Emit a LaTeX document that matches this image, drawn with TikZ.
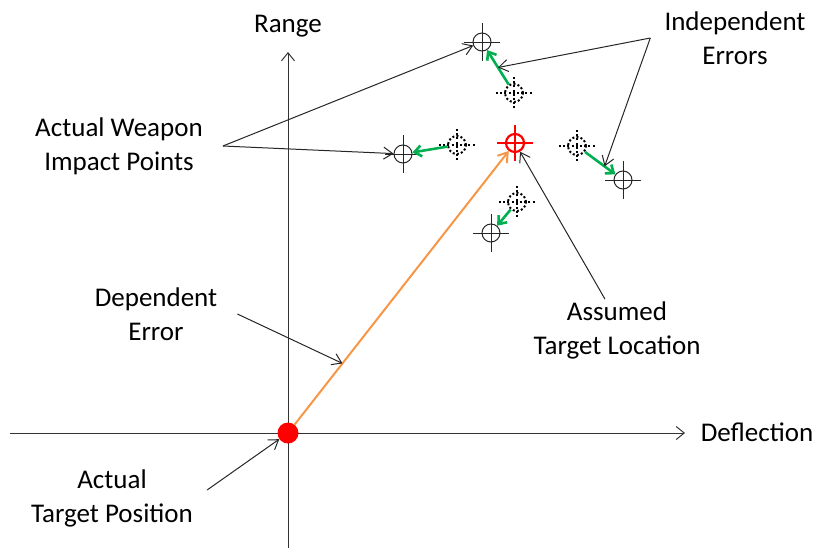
\documentclass[tikz,border=0pt]{standalone}
\usepackage{fontspec}
\setmainfont{Carlito}
\usetikzlibrary{arrows.meta,calc}

\definecolor{errgreen}{RGB}{0,176,80}
\definecolor{deporange}{RGB}{247,150,70}

\begin{document}
\begin{tikzpicture}[
        x=1pt, y=-1pt,
        lbl/.style={font=\fontsize{27}{34}\selectfont, align=center, inner sep=2pt, text=black},
        axis/.style={-{Straight Barb[length=8pt,width=13pt]}, line width=1pt, black!80},
        pointer/.style={-{Straight Barb[length=9pt,width=12pt]}, line width=1pt, black!85},
        impact/.style={circle, draw, minimum size=18pt, inner sep=0pt, line width=1pt, black!85},
        aim/.style={circle, draw, minimum size=18pt, inner sep=0pt, line width=2pt, dash pattern=on 2pt off 2.2pt},
        target/.style={circle, draw=red, minimum size=18pt, inner sep=0pt, line width=2.2pt},
        hit/.style={-{Straight Barb[length=7pt,width=11pt]}, line width=2.6pt, errgreen},
        deperr/.style={-{Straight Barb[length=9pt,width=12pt]}, line width=2pt, deporange}
    ]
        \useasboundingbox (0,0) rectangle (817,550);

        % axes
        \coordinate (o) at (288,433);
        \draw[axis] (10,433) -- (685,433);
        \draw[axis] (288,548) -- (288,52);
        \node[lbl] (range) at (288,26) {Range};
        \node[lbl] (defl) at (757,432) {Deflection};

        % target points
        \node[circle, fill=red, minimum size=21pt, inner sep=0pt] (dot) at (o) {};
        \node[target] (tgt) at (515,143) {};
        \draw[red, line width=2.2pt] (tgt.center) ++(-18,0) -- ++(36,0) (tgt.center) ++(0,-18) -- ++(0,36);

        % aim points and impact points
        \node[aim] (a1) at (514,93) {};
        \node[aim] (a2) at (457,145) {};
        \node[aim] (a3) at (577,146) {};
        \node[aim] (a4) at (517,202) {};
        \node[impact] (p1) at (482,42) {};
        \node[impact] (p2) at (403,154) {};
        \node[impact] (p3) at (623,180) {};
        \node[impact] (p4) at (491,233) {};
        \foreach \n in {a1,a2,a3,a4}
            \draw[line width=2pt, dash pattern=on 2pt off 2.2pt] (\n.center) ++(-18,0) -- ++(36,0) (\n.center) ++(0,-16) -- ++(0,32);
        \foreach \n in {p1,p2,p3,p4}
            \draw[line width=1pt, black!85] (\n.center) ++(-18,0) -- ++(36,0) (\n.center) ++(0,-19) -- ++(0,38);

        % errors
        \draw[deperr] (dot) -- (tgt);
        \foreach \i in {1,2,3,4}
            \draw[hit] (a\i) -- (p\i);

        % labels
        \node[lbl] (ind) at (735,38) {Independent\\Errors};
        \node[lbl] (wpn) at (119,146) {Actual Weapon\\Impact Points};
        \node[lbl] (dep) at (156,314) {Dependent\\Error};
        \node[lbl] (asl) at (617,330) {Assumed\\Target Location};
        \node[lbl] (pos) at (112,498) {Actual\\Target Position};

        \coordinate (e1) at ($(a1)!0.5!(p1)$);
        \coordinate (e3) at ($(a3)!0.6!(p3)$);
        \coordinate (d1) at ($(dot)!0.24!(tgt)$);

        \draw[pointer] ([xshift=-12pt]ind.west) -- (e1);
        \draw[pointer] ([xshift=-12pt]ind.west) -- (e3);
        \draw[pointer] ([xshift=18pt]wpn.east) -- (p1);
        \draw[pointer] ([xshift=18pt]wpn.east) -- (p2);
        \draw[pointer] ([xshift=18pt]dep.east) -- (d1);
        \draw[pointer] ([xshift=-12pt]asl.north) -- (tgt);
        \draw[pointer] ([shift={(12,-8)}]pos.east) -- (dot);
    \end{tikzpicture}
\end{document}
